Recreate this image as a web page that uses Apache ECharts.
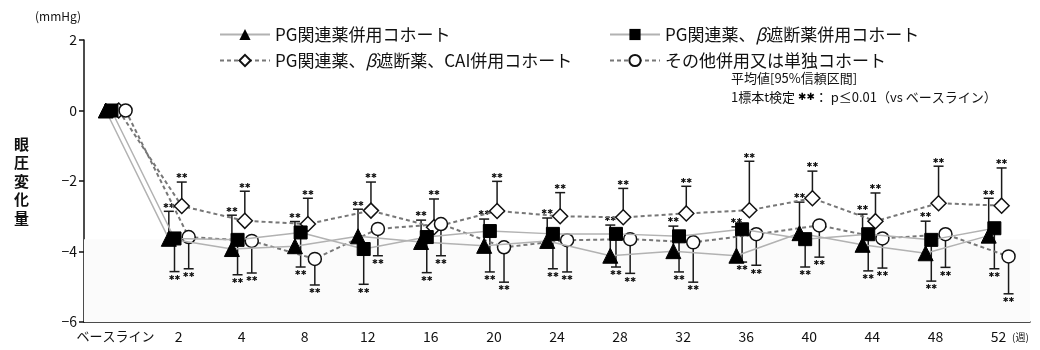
<!DOCTYPE html>
<html>
<head>
<meta charset="utf-8">
<script src="https://cdn.jsdelivr.net/npm/echarts@6/dist/echarts.min.js"></script>
<style>
html,body{margin:0;padding:0;background:#fff;}
#chart{width:1040px;height:350px;}
</style>
</head>
<body>
<div id="chart"></div>
<script>
// ---- data ----
const categories = ['ベースライン','2','4','8','12','16','20','24','28','32','36','40','44','48','52'];
const seriesNames = ['PG関連薬併用コホート','PG関連薬、β遮断薬併用コホート','PG関連薬、β遮断薬、CAI併用コホート','その他併用又は単独コホート'];
// mean change (mmHg)
const triMean = [0, -3.64, -3.93, -3.85, -3.57, -3.73, -3.84, -3.70, -4.12, -3.99, -4.12, -3.48, -3.81, -4.05, -3.55];
const sqMean  = [0, -3.63, -3.67, -3.46, -3.93, -3.59, -3.42, -3.50, -3.50, -3.57, -3.37, -3.65, -3.51, -3.67, -3.34];
const diaMean = [0, -2.71, -3.13, -3.22, -2.84, -3.31, -2.85, -3.00, -3.03, -2.92, -2.83, -2.49, -3.14, -2.63, -2.70];
const cirMean = [0, -3.59, -3.70, -4.21, -3.36, -3.22, -3.88, -3.68, -3.65, -3.74, -3.51, -3.26, -3.63, -3.51, -4.14];
// 95% CI ends shown (upper for triangle/diamond, lower for square/circle)
const triUpper = [null, -2.86, -2.97, -3.15, -2.80, -3.11, -3.08, -3.05, -3.25, -3.28, -3.30, -2.60, -2.94, -3.14, -2.49];
const sqLower  = [null, -4.57, -4.66, -4.44, -4.93, -4.60, -4.58, -4.49, -4.44, -4.58, -4.30, -4.44, -4.55, -4.84, -4.49];
const diaUpper = [null, -2.03, -2.29, -2.49, -2.03, -2.51, -2.01, -2.33, -2.21, -2.15, -1.44, -1.72, -2.34, -1.58, -1.63];
const cirLower = [null, -4.49, -4.61, -4.95, -4.12, -4.12, -4.87, -4.58, -4.62, -4.87, -4.39, -4.16, -4.47, -4.45, -5.20];
const yTicks = [-6, -4, -2, 0, 2];

// ---- chart ----
const FONT = '"Noto Sans CJK JP", "Noto Sans", sans-serif';
const OFF = [-0.155, -0.065, 0.05, 0.16];

function pts(vals, off) { return vals.map((v, i) => [i + off, v]); }

function errSeries(means, ends, off) {
  const data = [];
  means.forEach((m, i) => { if (ends[i] != null) data.push([i + off, m, ends[i]]); });
  return {
    type: 'custom', xAxisIndex: 1, silent: true, z: 1,
    encode: { x: 0, y: [1, 2] },
    data: data,
    renderItem: function (params, api) {
      const x = api.value(0);
      const p0 = api.coord([x, api.value(1)]);
      const p1 = api.coord([x, api.value(2)]);
      const up = p1[1] < p0[1];
      const st = { stroke: '#1a1a1a', lineWidth: 1.5 };
      return {
        type: 'group',
        children: [
          { type: 'line', shape: { x1: p0[0], y1: p0[1], x2: p1[0], y2: p1[1] }, style: st },
          { type: 'line', shape: { x1: p1[0] - 5, y1: p1[1], x2: p1[0] + 5, y2: p1[1] }, style: st },
          { type: 'text', style: { text: '✱✱', x: p1[0], y: up ? p1[1] - 2 : p1[1] + 3,
              align: 'center', verticalAlign: up ? 'bottom' : 'top',
              font: '7px "DejaVu Sans", sans-serif', fill: '#111' } }
        ]
      };
    }
  };
}

const solid = { color: '#b2b2b2', width: 1.5, type: 'solid' };
const dashed = { color: '#777777', width: 2, type: [4, 3] };

function legendCfg(names, left) {
  return { data: names, orient: 'vertical', left: left, top: 21,
    itemWidth: 50, itemHeight: 14, itemGap: 9, selectedMode: false,
    formatter: n => n.replace('β', '{b|β}'),
    textStyle: { fontSize: 17, color: '#111', fontFamily: FONT, lineHeight: 17,
      rich: { b: { fontStyle: 'italic', fontSize: 17, color: '#111', fontFamily: FONT } } } };
}

const option = {
  animation: false,
  backgroundColor: '#fff',
  textStyle: { fontFamily: FONT },
  grid: { left: 84, right: 10, top: 40, bottom: 28, containLabel: false },
  legend: [ legendCfg([seriesNames[0], seriesNames[2]], 214), legendCfg([seriesNames[1], seriesNames[3]], 604) ],
  xAxis: [
    { type: 'category', data: categories, boundaryGap: true,
      axisLine: { onZero: false, lineStyle: { color: '#111', width: 1.5 } },
      axisTick: { alignWithLabel: true, length: 5, lineStyle: { color: '#111', width: 1.5 } },
      axisLabel: { fontSize: 14, color: '#111', margin: 8, fontFamily: FONT, interval: 0,
        formatter: v => v === categories[0] ? '{s|' + v + '}' : v,
        rich: { s: { fontSize: 13, color: '#111', fontFamily: FONT } } },
      splitLine: { show: false } },
    { type: 'value', min: -0.5, max: 14.5, show: false, position: 'top',
      axisLine: { onZero: false } }
  ],
  yAxis: {
    type: 'value', min: yTicks[0], max: yTicks[yTicks.length - 1], interval: 2,
    axisLine: { show: true, onZero: false, lineStyle: { color: '#111', width: 1.5 } },
    axisTick: { show: true, length: 5, lineStyle: { color: '#111', width: 1.5 } },
    axisLabel: { fontSize: 14, color: '#111', margin: 7, fontFamily: FONT,
      formatter: v => v < 0 ? '−' + Math.abs(v) : String(v) },
    splitLine: { show: false }
  },
  graphic: [
    { type: 'text', left: 35, top: 10, style: { text: '(mmHg)', font: '12px ' + FONT, fill: '#111' } },
    { type: 'text', left: 14, top: 135, style: { text: '眼\n圧\n変\n化\n量', font: 'bold 15px ' + FONT,
        lineHeight: 18.5, fill: '#111', align: 'left' } },
    { type: 'text', left: 731, top: 72, style: { text: '平均値[95%信頼区間]', font: '13px ' + FONT, fill: '#111' } },
    { type: 'text', left: 731, top: 91, style: {
        text: '{a|1標本t検定 }{b|✱✱}{a|： p≤0.01（vs ベースライン）}',
        rich: { a: { fontSize: 13, fontFamily: FONT, fill: '#111', color: '#111' },
                b: { fontSize: 10, fontFamily: '"DejaVu Sans", sans-serif', color: '#111' } } } },
    { type: 'text', left: 1012, top: 332, style: { text: '(週)', font: '10px ' + FONT, fill: '#111' } }
  ],
  series: [
    errSeries(triMean, triUpper, OFF[0]),
    errSeries(sqMean, sqLower, OFF[1]),
    errSeries(diaMean, diaUpper, OFF[2]),
    errSeries(cirMean, cirLower, OFF[3]),
    { name: seriesNames[2], type: 'line', xAxisIndex: 1, z: 3, data: pts(diaMean, OFF[2]),
      symbol: 'diamond', symbolSize: 15, lineStyle: dashed,
      itemStyle: { color: '#fff', borderColor: '#111', borderWidth: 1.5 },
      markArea: { silent: true, itemStyle: { color: '#fbfbfb' }, data: [[{ yAxis: -3.65 }, { yAxis: -6 }]] } },
    { name: seriesNames[3], type: 'line', xAxisIndex: 1, z: 3, data: pts(cirMean, OFF[3]),
      symbol: 'circle', symbolSize: 13, lineStyle: dashed,
      itemStyle: { color: '#fff', borderColor: '#111', borderWidth: 1.5 } },
    { name: seriesNames[0], type: 'line', xAxisIndex: 1, z: 4, data: pts(triMean, OFF[0]),
      symbol: 'triangle', symbolSize: 15, lineStyle: solid,
      itemStyle: { color: '#000', borderColor: '#000' } },
    { name: seriesNames[1], type: 'line', xAxisIndex: 1, z: 4, data: pts(sqMean, OFF[1]),
      symbol: 'rect', symbolSize: 13, lineStyle: solid,
      itemStyle: { color: '#000', borderColor: '#000' } }
  ]
};

const chart = echarts.init(document.getElementById('chart'), null, { renderer: 'canvas' });
chart.setOption(option);
</script>
</body>
</html>
